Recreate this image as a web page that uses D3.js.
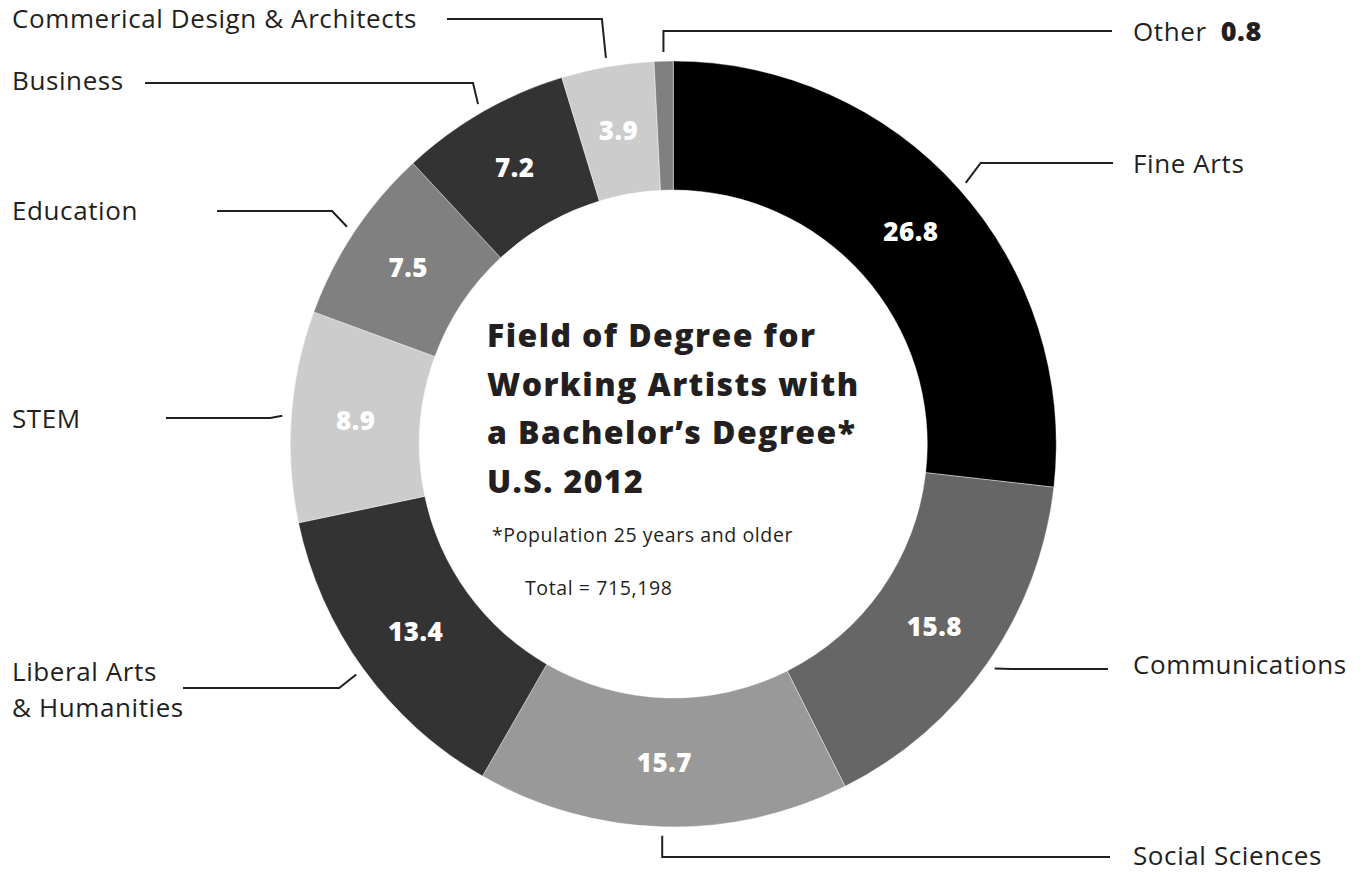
<!DOCTYPE html>
<html>
<head>
<meta charset="utf-8">
<script src="https://cdn.jsdelivr.net/npm/d3@7"></script>
<style>
  body { margin: 0; background: #fff; }
  text { font-family: "Open Sans", sans-serif; }
</style>
</head>
<body>
<svg class="chart"></svg>
<script>
// Field of degree shares (percent), clockwise from 12 o'clock
const categories = ["Fine Arts", "Communications", "Social Sciences", "Liberal Arts & Humanities",
  "STEM", "Education", "Business", "Commerical Design & Architects", "Other"];
const values = [26.8, 15.8, 15.7, 13.4, 8.9, 7.5, 7.2, 3.9, 0.8];
const shades = ["#000000", "#666666", "#999999", "#333333", "#cccccc", "#808080", "#333333", "#cccccc", "#808080"];
const labelLines = [["Fine Arts"], ["Communications"], ["Social Sciences"], ["Liberal Arts", "& Humanities"],
  ["STEM"], ["Education"], ["Business"], ["Commerical Design & Architects"], ["Other"]];
const titleLines = ["Field of Degree for", "Working Artists with", "a Bachelor\u2019s Degree*", "U.S. 2012"];

// Leader line layout: side, y of horizontal run, x where run stops, elbow offset, text baseline
const leaders = [
  { side: 1, y: 163, end: 1113, elbow: 15, base: 173 },
  { side: 1, y: 669, end: 1108, elbow: 17, base: 674 },
  { side: 1, y: 857, end: 1110, elbow: 0, base: 865 },
  { side: -1, y: 688, end: 183, elbow: -17, base: 681 },
  { side: -1, y: 418, end: 166, elbow: -12, base: 428 },
  { side: -1, y: 211, end: 217, elbow: -15, base: 220 },
  { side: -1, y: 83, end: 145, elbow: -5, base: 90 },
  { side: -1, y: 19, end: 447, elbow: -4, base: 28 },
  { side: 1, y: 31, end: 1112, elbow: 0, base: 41 }
];

const width = 1369, height = 872;
const cx = 673.3, cy = 444;
const outerR = 383, innerR = 254;
const ink = "#231f20";

const svg = d3.select(".chart").attr("width", width).attr("height", height);
const g = svg.append("g").attr("transform", "translate(" + cx + "," + cy + ")");

const data = categories.map(function (c, i) {
  return { name: c, value: values[i], i: i };
});

const pie = d3.pie().sort(null).value(function (d) { return d.value; });
const arc = d3.arc().innerRadius(innerR).outerRadius(outerR);
const tipArc = d3.arc().innerRadius(392).outerRadius(392);

const arcs = pie(data);

// Slices
g.selectAll(".slice")
  .data(arcs)
  .enter()
  .append("path")
  .attr("class", "slice")
  .attr("d", arc)
  .attr("fill", function (d) { return shades[d.data.i]; })
  .attr("stroke", "#fff")
  .attr("stroke-width", 0.4);

// Values inside the ring (skip the tiny "Other" slice)
g.selectAll(".val")
  .data(arcs.filter(function (d) { return d.data.value >= 2; }))
  .enter()
  .append("text")
  .attr("class", "val")
  .attr("transform", function (d) { return "translate(" + arc.centroid(d) + ")"; })
  .attr("text-anchor", "middle")
  .attr("dy", "0.36em")
  .style("font-size", "26px")
  .style("font-weight", 800)
  .style("letter-spacing", "0.5px")
  .style("fill", "#fff")
  .text(function (d) { return d.data.value.toFixed(1); });

// Leader lines
g.selectAll(".leader")
  .data(arcs)
  .enter()
  .append("polyline")
  .attr("class", "leader")
  .attr("fill", "none")
  .attr("stroke", ink)
  .attr("stroke-width", 2)
  .attr("points", function (d) {
    const L = leaders[d.data.i];
    const p = tipArc.centroid(d);
    const ly = L.y - cy;
    return [p, [p[0] + L.elbow, ly], [L.end - cx, ly]].map(function (q) { return q.join(","); }).join(" ");
  });

// Category labels, one text per line
arcs.forEach(function (d) {
  const L = leaders[d.data.i];
  const x = L.side > 0 ? 1133 : 12;
  labelLines[d.data.i].forEach(function (line, k) {
    const t = svg.append("text")
      .attr("class", "cat")
      .attr("x", x)
      .attr("y", L.base + k * 36)
      .style("font-size", "26px")
      .style("letter-spacing", "0.6px")
      .style("fill", ink)
      .text(line);
    if (d.data.value < 2) {
      t.append("tspan")
        .attr("dx", 14)
        .style("font-weight", 800)
        .style("font-size", "27px")
        .text(d.data.value.toFixed(1));
    }
  });
});

// Title in the hole
svg.append("g")
  .selectAll("text")
  .data(titleLines)
  .enter()
  .append("text")
  .attr("x", 487)
  .attr("y", function (d, i) { return 347 + i * 48.7; })
  .style("font-size", "32px")
  .style("font-weight", 800)
  .style("letter-spacing", "1.4px")
  .style("fill", ink)
  .text(function (d) { return d; });

svg.append("text")
  .attr("x", 492)
  .attr("y", 542)
  .style("font-size", "19.5px")
  .style("letter-spacing", "0.6px")
  .style("fill", ink)
  .text("*Population 25 years and older");

svg.append("text")
  .attr("x", 525)
  .attr("y", 595)
  .style("font-size", "19.5px")
  .style("letter-spacing", "0.6px")
  .style("fill", ink)
  .text("Total = 715,198");
</script>
</body>
</html>
